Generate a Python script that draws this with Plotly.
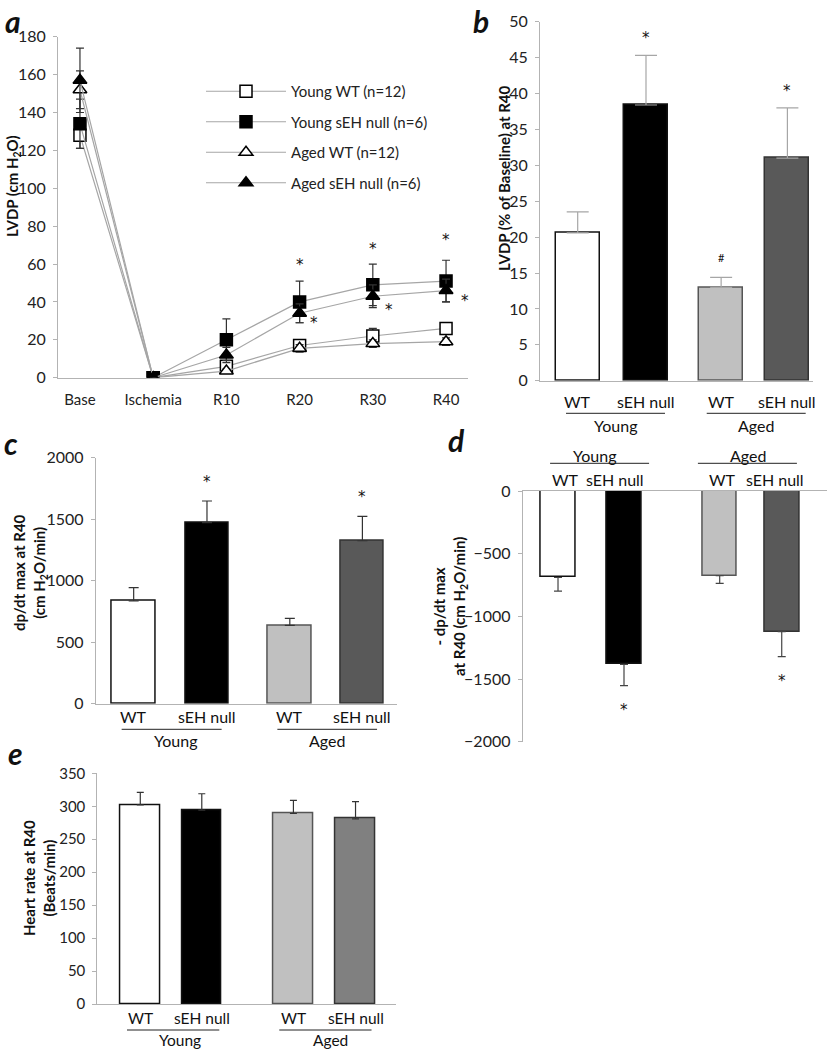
import plotly.graph_objects as go

W, H = 827, 1050
FONT = "Lato, 'Open Sans', sans-serif"
STAR_FONT = "'DejaVu Sans', sans-serif"

# ---------------- data ----------------
# Panel a: LVDP time course
timepoints = ["Base", "Ischemia", "R10", "R20", "R30", "R40"]
young_wt = [128, 0, 6, 17, 22, 26]
young_wt_err = [7, 0, 2, 2, 4, 3]
young_seh = [134, 0, 20, 40, 49, 51]
young_seh_err = [13, 0, 11, 11, 11, 11]
aged_wt = [152, 0, 3.5, 15.5, 18, 19]
aged_wt_err = [10, 0, 1, 2, 2, 2]
aged_seh = [157, 0, 12, 34, 43, 46]
aged_seh_err = [17, 0, 4, 5, 6, 6]

# Bar panels (order: Young WT, Young sEH null, Aged WT, Aged sEH null)
genotypes = ["WT", "sEH null", "WT", "sEH null"]
age_groups = ["Young", "Aged"]
lvdp_pct = [20.6, 38.4, 13.0, 31.0]
lvdp_pct_err = [2.9, 6.9, 1.4, 7.0]
lvdp_marks = ["", "*", "#", "*"]
dpdt_max = [835, 1472, 637, 1325]
dpdt_max_err = [108, 176, 57, 198]
dpdt_marks = ["", "*", "", "*"]
neg_dpdt = [-690, -1383, -676, -1122]
neg_dpdt_err = [108, 170, 61, 200]
neg_marks = ["", "*", "", "*"]
heart_rate = [302, 294, 289, 281]
heart_rate_err = [19, 25, 20, 26]

# ---------------- helpers ----------------
def px(x):
    return x / W

def py(y):
    return 1 - y / H

fig = go.Figure()
annotations = []
shapes = []

AXIS_GRAY = "#b3b3b3"

def yaxis_style(domain, rng, dtick, anchor, size=16):
    return dict(domain=domain, range=rng, dtick=dtick, anchor=anchor,
                showgrid=False, zeroline=False, showline=True, linecolor=AXIS_GRAY,
                linewidth=1, ticks="outside", ticklen=4, tickcolor=AXIS_GRAY,
                ticklabelstandoff=4, automargin=False,
                tickfont=dict(size=size, color="#222", family=FONT), fixedrange=True)

def xaxis_style(domain, rng, anchor, side="bottom"):
    return dict(domain=domain, range=rng, anchor=anchor, side=side,
                showgrid=False, zeroline=False, showline=True, linecolor=AXIS_GRAY,
                linewidth=1, ticks="", showticklabels=False, fixedrange=True, automargin=False)

def text_ann(x, y, text, xref="paper", yref="paper", size=16, family=FONT, yshift=0, **kw):
    d = dict(x=x, y=y, xref=xref, yref=yref, text=text, showarrow=False,
             xanchor="center", yanchor="middle", yshift=yshift,
             font=dict(size=size, color="#111", family=family))
    d.update(kw)
    annotations.append(d)

# ---------------- panel a ----------------
series = [
    ("Young WT (n=12)", young_wt, young_wt_err, "square", "white"),
    ("Young sEH null (n=6)", young_seh, young_seh_err, "square", "black"),
    ("Aged WT (n=12)", aged_wt, aged_wt_err, "triangle-up", "white"),
    ("Aged sEH null (n=6)", aged_seh, aged_seh_err, "triangle-up", "black"),
]
x_idx = list(range(len(timepoints)))
for name, vals, errs, sym, fill in series:
    fig.add_trace(go.Scatter(
        x=x_idx, y=vals, mode="lines+markers", name=name,
        line=dict(color="#a6a6a6", width=1.2),
        marker=dict(symbol=sym, size=12, color=fill, line=dict(color="black", width=1.5)),
        error_y=dict(type="data", array=errs, color="#333333", thickness=1.2, width=4),
        xaxis="x", yaxis="y", legendgroup=name, showlegend=True))

# significance marks in panel a: (x index, y value)
a_marks = [(3, 61.1), (4, 69.7), (5, 74.3), (3.2, 30.5), (4.22, 37.5), (5.26, 42.0)]
for xm, ym in a_marks:
    text_ann(xm, ym, "*", xref="x", yref="y", size=15, family=STAR_FONT, yshift=-3)

# ---------------- bar panels ----------------
def bar_panel(xa, ya, pos, vals, errs, colors, outlines, width, err_color, err_cap, down=False):
    zeros = [0] * len(vals)
    fig.add_trace(go.Bar(
        x=pos, y=vals, width=width,
        marker=dict(color=colors, line=dict(color=outlines, width=1.5)),
        error_y=dict(type="data", symmetric=False,
                     array=zeros if down else errs,
                     arrayminus=errs if down else zeros,
                     color=err_color, thickness=1.2, width=err_cap),
        xaxis=xa, yaxis=ya, showlegend=False))

def labels(xref, label_pos, y_lab, line_ranges, y_line, group_pos, y_group, size=16):
    for xp, t in zip(label_pos, genotypes):
        text_ann(xp, py(y_lab), t, xref=xref, size=size)
    for (x0, x1) in line_ranges:
        shapes.append(dict(type="line", xref=xref, yref="paper", x0=x0, x1=x1,
                           y0=py(y_line), y1=py(y_line), line=dict(color="#222", width=1)))
    for xp, t in zip(group_pos, age_groups):
        text_ann(xp, py(y_group), t, xref=xref, size=size)

def marks(xref, yref, pos, vals, errs, tags, gap, down=False):
    for xp, v, e, t in zip(pos, vals, errs, tags):
        if not t:
            continue
        yv = v - e - gap if down else v + e + gap
        if t == "*":
            text_ann(xp, yv, t, xref=xref, yref=yref, size=15, family=STAR_FONT, yshift=-3)
        else:
            text_ann(xp, yv, t, xref=xref, yref=yref, size=11)

fills_dark = ["white", "black", "#c0c0c0", "#595959"]
fills_e = ["white", "black", "#c0c0c0", "#808080"]
outlines = ["#111", "#111", "#555", "#333"]

# panel b
pos_b = [0, 1, 2.1, 3.07]
bar_panel("x2", "y2", pos_b, lvdp_pct, lvdp_pct_err, fills_dark, outlines, 0.644, "#a6a6a6", 11)
marks("x2", "y2", pos_b, lvdp_pct, lvdp_pct_err, lvdp_marks, 2.8)
labels("x2", pos_b, 401.7, [(-0.171, 1.278), (1.889, 3.338)], 413.3, [0.553, 2.61], 425)

# panel c
pos_c = [0, 1, 2.13, 3.12]
bar_panel("x3", "y3", pos_c, dpdt_max, dpdt_max_err, fills_dark, outlines, 0.593, "#333333", 5)
marks("x3", "y3", pos_c, dpdt_max, dpdt_max_err, dpdt_marks, 180)
labels("x3", pos_c, 716, [(-0.164, 1.2), (1.96, 3.32)], 729.3, [0.57, 2.64], 740)

# panel d
pos_d = [0, 1, 2.45, 3.39]
bar_panel("x4", "y4", pos_d, neg_dpdt, neg_dpdt_err, fills_dark, outlines, 0.53, "#444444", 4, down=True)
marks("x4", "y4", pos_d, neg_dpdt, neg_dpdt_err, neg_marks, 172, down=True)
labels("x4", [0.106, 0.864, 2.5, 3.288], 480, [(-0.12, 1.38), (2.12, 3.62)], 463.3, [0.56, 2.88], 455)

# panel e
pos_e = [0, 1, 2.49, 3.5]
bar_panel("x5", "y5", pos_e, heart_rate, heart_rate_err, fills_e, outlines, 0.642, "#333333", 3.5)
labels("x5", pos_e, 1017.5, [(-0.216, 1.285), (2.26, 3.76)], 1030, [0.645, 3.1], 1040, size=15.5)

# ---------------- axis titles (rotated) ----------------
def ytitle(xp, yp, text, size=15):
    text_ann(px(xp), py(yp), text, size=size, textangle=-90)

ytitle(13, 186, "<b>LVDP (cm H<sub>2</sub>O)</b>")
ytitle(504, 178, "<b>LVDP (% of Baseline) at R40</b>")
ytitle(30, 573, "<b>dp/dt max at R40<br>(cm H<sub>2</sub>O/min)</b>")
ytitle(450, 607, "<b>- dp/dt max<br>at R40 (cm H<sub>2</sub>O/min)</b>")
ytitle(39, 878, "<b>Heart rate at R40<br>(Beats/min)</b>")

# panel letters
for letter, lx, ly in [("a", 13, 21), ("b", 481, 21), ("c", 11, 443), ("d", 456, 440), ("e", 15, 753)]:
    text_ann(px(lx), py(ly), "<b><i>%s</i></b>" % letter, size=30)

# ---------------- layout ----------------
xa = xaxis_style([px(58), px(468)], [-0.3, 5.3], "y")
xa.update(showticklabels=True, tickmode="array", tickvals=x_idx, ticktext=timepoints,
          ticks="outside", ticklen=8, tickcolor="rgba(0,0,0,0)",
          tickfont=dict(size=15, color="#222", family=FONT))

fig.update_layout(
    width=W, height=H, margin=dict(l=0, r=0, t=0, b=0, autoexpand=False),
    paper_bgcolor="white", plot_bgcolor="white",
    font=dict(family=FONT, color="#222"),
    bargap=0,
    xaxis=xa,
    yaxis=yaxis_style([py(377.7), py(36.7)], [0, 180], 20, "x"),
    xaxis2=xaxis_style([px(540), px(813)], [-0.552, 3.445], "y2"),
    yaxis2=yaxis_style([py(380.7), py(21.7)], [0, 50], 5, "x2"),
    xaxis3=xaxis_style([px(95.7), px(396.7)], [-0.518, 3.588], "y3"),
    yaxis3=yaxis_style([py(703.7), py(457.7)], [0, 2000], 500, "x3"),
    xaxis4=xaxis_style([px(522.7), 1.0], [-0.535, 4.076], "y4", side="top"),
    yaxis4=yaxis_style([py(741.7), py(491)], [-2000, 0], 500, "x4"),
    xaxis5=xaxis_style([px(97.3), px(396)], [-0.699, 4.158], "y5"),
    yaxis5=yaxis_style([py(1004), py(773.3)], [0, 350], 50, "x5", size=15),
    legend=dict(x=px(201), y=py(75), xanchor="left", yanchor="top",
                font=dict(size=15, color="#222", family=FONT),
                bgcolor="rgba(0,0,0,0)", tracegroupgap=8, itemwidth=80),
    annotations=annotations, shapes=shapes, showlegend=True,
)

fig.write_html("out.html", config={"displayModeBar": False},
               post_script="document.body.style.margin='0';document.body.style.overflow='hidden';")
